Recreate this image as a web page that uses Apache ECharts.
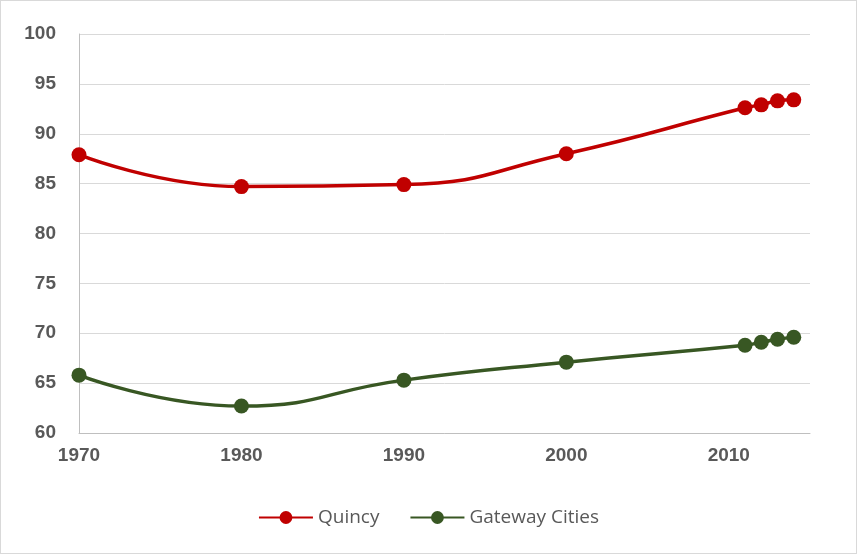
<!DOCTYPE html>
<html>
<head>
<meta charset="utf-8">
<script src="https://cdn.jsdelivr.net/npm/echarts@6/dist/echarts.min.js"></script>
<style>
  html, body { margin: 0; padding: 0; background: #fff; }
  #chart { width: 857px; height: 554px; box-sizing: border-box; border: 1px solid #D9D9D9; }
</style>
</head>
<body>
<div id="chart"></div>
<script>
    const years = [1970, 1980, 1990, 2000, 2011, 2012, 2013, 2014];
    const quincy = [87.9, 84.7, 84.9, 88.0, 92.6, 92.9, 93.3, 93.4];
    const gateway = [65.8, 62.7, 65.3, 67.1, 68.8, 69.1, 69.4, 69.6];

    const pairs = (vals) => years.map((y, i) => [y, vals[i]]);

    const chart = echarts.init(document.getElementById('chart'));

    const labelFont = {
        fontFamily: 'Liberation Sans',
        fontWeight: 'bold',
        fontSize: 19,
        color: '#595959'
    };

    const option = {
        animation: false,
        grid: { left: 78, right: 46, top: 33, bottom: 120 },
        legend: {
            bottom: 21,
            left: 'center',
            itemWidth: 54,
            itemHeight: 16,
            itemGap: 30,
            textStyle: { fontFamily: 'Open Sans', fontSize: 19, color: '#595959' },
            data: ['Quincy', 'Gateway Cities']
        },
        xAxis: {
            type: 'value',
            min: 1970,
            max: 2015,
            interval: 10,
            axisLine: { show: true, lineStyle: { color: '#BFBFBF', width: 1 } },
            axisTick: { show: false },
            splitLine: { show: false },
            axisLabel: Object.assign({
                showMaxLabel: false,
                margin: 13,
                formatter: (v) => String(v)
            }, labelFont)
        },
        yAxis: {
            type: 'value',
            min: 60,
            max: 100,
            interval: 5,
            axisLine: { show: true, lineStyle: { color: '#BFBFBF', width: 1 } },
            axisTick: { show: false },
            splitLine: { lineStyle: { color: '#D9D9D9', width: 1 } },
            axisLabel: Object.assign({ margin: 23 }, labelFont)
        },
        series: [
            {
                name: 'Quincy',
                type: 'line',
                smooth: 0.5,
                symbol: 'circle',
                symbolSize: 15,
                color: '#C00000',
                lineStyle: { width: 3.5, color: '#C00000' },
                itemStyle: { color: '#C00000' },
                data: pairs(quincy)
            },
            {
                name: 'Gateway Cities',
                type: 'line',
                smooth: 0.5,
                symbol: 'circle',
                symbolSize: 15,
                color: '#385723',
                lineStyle: { width: 3.5, color: '#385723' },
                itemStyle: { color: '#385723' },
                data: pairs(gateway)
            }
        ]
    };

    chart.setOption(option);
</script>
</body>
</html>
